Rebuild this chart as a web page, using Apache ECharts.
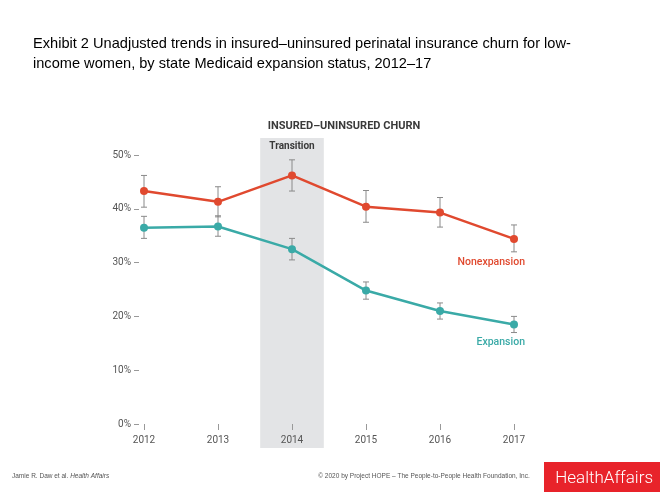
<!DOCTYPE html>
<html><head><meta charset="utf-8">
<script src="https://cdn.jsdelivr.net/npm/echarts@6/dist/echarts.min.js"></script>
<style>html,body{margin:0;padding:0;background:#fff}#c{width:660px;height:492px}</style>
</head><body><div id="c"></div>
<script>
const years = [2012, 2013, 2014, 2015, 2016, 2017];
const nonexpansion = [43.3, 41.3, 46.2, 40.4, 39.3, 34.4];
const nonexpLow = [40.3, 38.5, 43.3, 37.5, 36.6, 32.0];
const nonexpHigh = [46.2, 44.1, 49.1, 43.4, 42.1, 37.0];
const expansion = [36.5, 36.7, 32.5, 24.8, 21.0, 18.5];
const expLow = [34.5, 34.9, 30.5, 23.2, 19.5, 17.0];
const expHigh = [38.6, 38.7, 34.5, 26.4, 22.5, 20.0];
const transitionBand = [2013.57, 2014.43];
const yTicks = [0, 10, 20, 30, 40, 50];

const RED = '#e0492f', TEAL = '#3aaaa7', GREY = '#8a8a8a';
const FONT = 'Roboto';

function errData(low, high) { return years.map((y, i) => [y, low[i], high[i]]); }
function errRender(params, api) {
  const x = api.value(0);
  const lo = api.coord([x, api.value(1)]);
  const hi = api.coord([x, api.value(2)]);
  const cap = 3;
  const st = { stroke: GREY, lineWidth: 1 };
  return { type: 'group', children: [
    { type: 'line', shape: { x1: lo[0], y1: lo[1], x2: hi[0], y2: hi[1] }, style: st },
    { type: 'line', shape: { x1: lo[0]-cap, y1: lo[1], x2: lo[0]+cap, y2: lo[1] }, style: st },
    { type: 'line', shape: { x1: hi[0]-cap, y1: hi[1], x2: hi[0]+cap, y2: hi[1] }, style: st }
  ]};
}
function lineData(vals) { return years.map((y, i) => [y, vals[i]]); }

const chart = echarts.init(document.getElementById('c'), null, { renderer: 'canvas' });
chart.setOption({
  animation: false,
  backgroundColor: '#fff',
  textStyle: { fontFamily: FONT },
  title: [
    { text: 'Exhibit 2 Unadjusted trends in insured–uninsured perinatal insurance churn for low-\nincome women, by state Medicaid expansion status, 2012–17',
      left: 33, top: 34, padding: 0, textStyle: { fontFamily: 'Liberation Sans', fontSize: 14.6, fontWeight: 'normal', color: '#000', lineHeight: 20 } },
    { text: 'INSURED–UNINSURED CHURN', left: 344, top: 121, padding: 0, textAlign: 'center',
      textStyle: { fontFamily: FONT, fontSize: 11, fontWeight: 'bold', color: '#3a3a3a' } },
    { text: 'Jamie R. Daw et al. {i|Health Affairs}', left: 12, top: 473, padding: 0,
      textStyle: { fontFamily: 'Liberation Sans', fontSize: 6.5, fontWeight: 'normal', color: '#555',
        rich: { i: { fontFamily: 'Liberation Sans', fontSize: 6.5, fontStyle: 'italic', color: '#555' } } } },
    { text: '© 2020 by Project HOPE – The People-to-People Health Foundation, Inc.', left: 424, top: 473, padding: 0, textAlign: 'center',
      textStyle: { fontFamily: 'Liberation Sans', fontSize: 6.5, fontWeight: 'normal', color: '#555' } }
  ],
  graphic: [
    { type: 'rect', right: 0, bottom: 0, shape: { width: 116, height: 30 }, style: { fill: '#e8232a' } },
    { type: 'text', right: 7, bottom: 5, style: { text: 'HealthAffairs', fill: '#fff', font: '300 17px Roboto' } }
  ],
  grid: [
    { left: 144, right: 146, top: 155, bottom: 68 },
    { left: 144, right: 146, top: 138, bottom: 44 }
  ],
  xAxis: [
    { type: 'value', gridIndex: 0, min: 2012, max: 2017, interval: 1, offset: 3,
      axisLine: { show: false }, splitLine: { show: false },
      axisTick: { show: true, length: 6, inside: false, lineStyle: { color: '#999' } },
      axisLabel: { margin: 8, color: '#555', fontSize: 10, fontFamily: FONT, formatter: v => String(v) } },
    { type: 'value', gridIndex: 1, min: 2012, max: 2017, show: false }
  ],
  yAxis: [
    { type: 'value', gridIndex: 0, min: 0, max: 50, interval: 10, offset: 5,
      axisLine: { show: false }, splitLine: { show: false },
      axisTick: { show: true, length: 5, lineStyle: { color: '#999' } },
      axisLabel: { margin: 8, color: '#555', fontSize: 10, fontFamily: FONT,
        formatter: v => yTicks.includes(v) ? v + '%' : '' } },
    { type: 'value', gridIndex: 1, min: 0, max: 1, show: false }
  ],
  series: [
    { type: 'custom', xAxisIndex: 1, yAxisIndex: 1, silent: true, z: 0,
      data: [[transitionBand[0], transitionBand[1]]],
      renderItem: function (params, api) {
        const a = api.coord([api.value(0), 1]);
        const b = api.coord([api.value(1), 0]);
        return { type: 'group', children: [
          { type: 'rect', shape: { x: a[0], y: a[1], width: b[0]-a[0], height: b[1]-a[1] }, style: { fill: '#e3e4e6' } },
          { type: 'text', style: { x: (a[0]+b[0])/2, y: a[1]+3, text: 'Transition', align: 'center', verticalAlign: 'top',
            fill: '#3a3a3a', font: 'bold 10px Roboto' } }
        ]};
      } },
    { type: 'custom', name: 'nonexpErr', xAxisIndex: 0, yAxisIndex: 0, z: 2, silent: true,
      data: errData(nonexpLow, nonexpHigh), renderItem: errRender },
    { type: 'custom', name: 'expErr', xAxisIndex: 0, yAxisIndex: 0, z: 2, silent: true,
      data: errData(expLow, expHigh), renderItem: errRender },
    { type: 'line', name: 'Nonexpansion', z: 3, data: lineData(nonexpansion),
      symbol: 'circle', symbolSize: 8, lineStyle: { color: RED, width: 2.5 }, itemStyle: { color: RED },
      label: { show: true, position: 'bottom', align: 'right', offset: [11, 9], color: RED, fontSize: 10.5, fontWeight: 500, fontFamily: FONT,
        formatter: p => p.dataIndex === years.length - 1 ? 'Nonexpansion' : '' } },
    { type: 'line', name: 'Expansion', z: 3, data: lineData(expansion),
      symbol: 'circle', symbolSize: 8, lineStyle: { color: TEAL, width: 2.5 }, itemStyle: { color: TEAL },
      label: { show: true, position: 'bottom', align: 'right', offset: [11, 3], color: TEAL, fontSize: 10.5, fontWeight: 500, fontFamily: FONT,
        formatter: p => p.dataIndex === years.length - 1 ? 'Expansion' : '' } }
  ]
});
</script></body></html>
